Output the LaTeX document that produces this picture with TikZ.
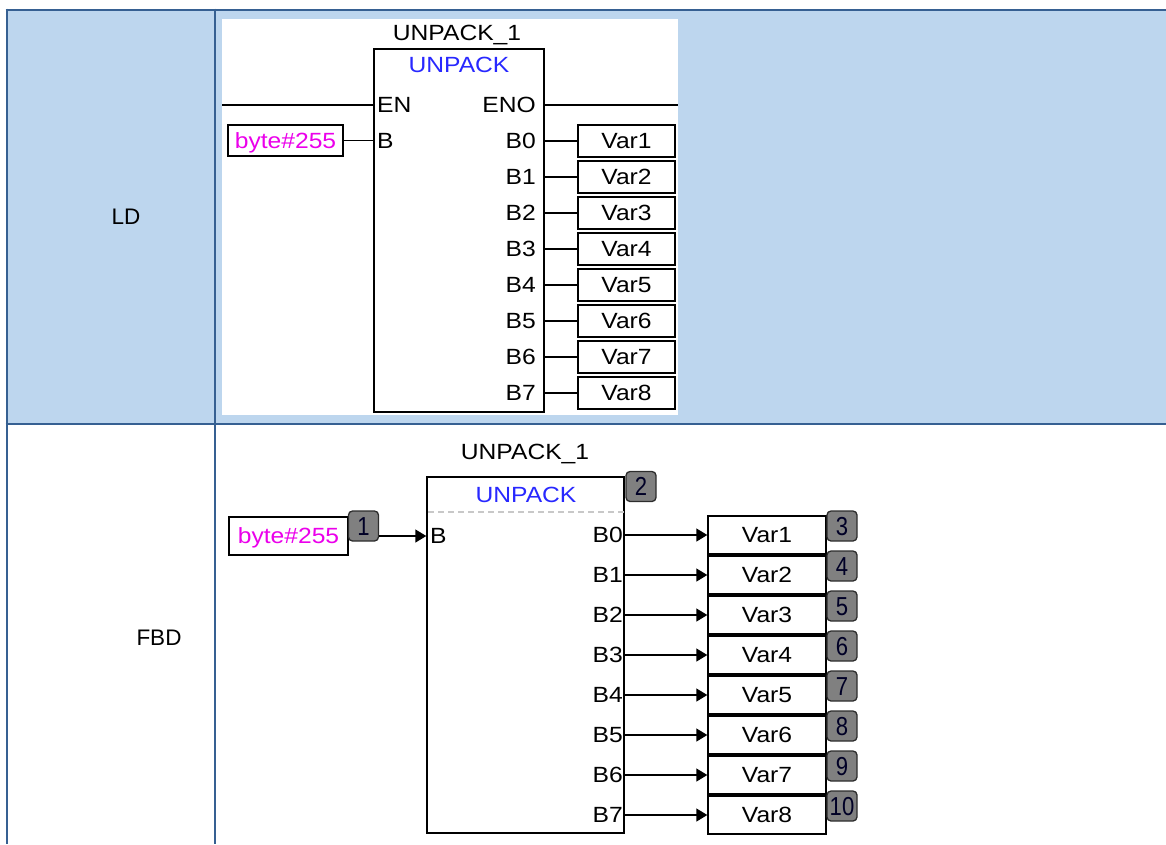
\documentclass[tikz,border=0pt]{standalone}
\usepackage{fontspec}
\setmainfont{Liberation Sans}
\newfontfamily\diagfont[FakeStretch=1.12]{Liberation Sans}
\newfontfamily\badgefont[FakeStretch=0.85]{Liberation Sans}
\usetikzlibrary{arrows.meta}
\definecolor{tblfill}{RGB}{189,214,238}
\definecolor{tblline}{RGB}{54,96,146}
\definecolor{fbblue}{RGB}{40,40,255}
\definecolor{bytemag}{RGB}{235,0,235}
\definecolor{badgegray}{RGB}{128,128,128}
\definecolor{badgeline}{RGB}{45,45,45}
\definecolor{dashgray}{RGB}{200,200,200}
\begin{document}
\begin{tikzpicture}[x=1pt,y=-1pt,
  celltxt/.style={inner sep=0pt, font=\fontsize{22.5}{26}\selectfont, text height=16pt, text depth=0pt},
  txt/.style={inner sep=0pt, font=\diagfont\fontsize{22}{25}\selectfont, text height=15.7pt, text depth=0pt},
  wire/.style={line width=1.4pt},
  arrowwire/.style={line width=1.4pt, -{Triangle[length=11pt,width=13pt]}},
  frame/.style={draw, line width=1.4pt, inner sep=0pt},
  varbox/.style={frame, fill=white, font=\diagfont\fontsize{22}{25}\selectfont, text height=15.7pt, text depth=0pt},
  bytebox/.style={varbox, text=bytemag},
  badge/.style={draw=badgeline, line width=1.3pt, fill=badgegray, rounded corners=4pt,
    minimum width=30pt, minimum height=30pt, inner sep=0pt,
    font=\badgefont\fontsize{26}{28}\selectfont, text=black!85!blue, text height=18pt, text depth=0pt},
  rule/.style={tblline, line width=2.6pt}
]
\useasboundingbox (0,0) rectangle (1166,844);
% table
\fill[tblfill] (7,10) rectangle (1166,424);
\fill[white] (222,19) rectangle (678,415);
\draw[rule] (5.7,10) -- (1166,10);
\draw[rule] (5.7,424) -- (1166,424);
\draw[rule] (7,8.7) -- (7,844);
\draw[rule] (215,8.7) -- (215,844);
\node[celltxt] (ldlabel) at (126,216) {LD};
\node[celltxt] (fbdlabel) at (159,637) {FBD};

% ---------- LD ----------
\node[txt] (ldtitle) at (457,33) {UNPACK\_1};
\node[frame, minimum width=170pt, minimum height=363pt] (ldbox) at (459,230.5) {};
\node[txt, text=fbblue] (ldtype) at (459,65) {UNPACK};
\node[txt, anchor=west] (ldEN) at (377,105) {EN};
\node[txt, anchor=east] (ldENO) at (536,105) {ENO};
\coordinate (ldrailL) at (222,105);
\coordinate (ldrailR) at (678,105);
\draw[wire] (ldrailL) -- (ldrailL -| ldbox.west);
\draw[wire] (ldrailR -| ldbox.east) -- (ldrailR);
\node[bytebox, minimum width=115pt, minimum height=31pt] (ldbyte) at (285.5,140.5) {byte\#255};
\node[txt, anchor=west] (ldB) at (377,141) {B};
\draw[wire] (ldbyte.east) -- (ldbyte.east -| ldbox.west);
\foreach \i in {0,...,7}{
  \pgfmathsetmacro{\yy}{141+36*\i}
  \pgfmathtruncatemacro{\n}{\i+1}
  \node[txt, anchor=east] (ldB\i) at (536,\yy) {B\i};
  \node[varbox, minimum width=97pt, minimum height=32pt] (ldvar\i) at (626.5,\yy) {Var\n};
  \draw[wire] (ldB\i.east -| ldbox.east) -- (ldvar\i.west);
}

% ---------- FBD ----------
\node[txt] (fbtitle) at (525,452) {UNPACK\_1};
\node[frame, fill=white, minimum width=197pt, minimum height=356pt] (fbbox) at (525.5,655) {};
\node[txt, text=fbblue] (fbtype) at (526,495) {UNPACK};
\coordinate (fbsep) at (428,512);
\draw[dashgray, line width=1.2pt, dash pattern=on 6pt off 4pt] (fbsep) -- (fbsep -| fbbox.east);
\node[badge] (fbbadge2) at (641,486.5) {2};
\node[bytebox, minimum width=119pt, minimum height=38pt] (fbbyte) at (288.5,536) {byte\#255};
\node[badge] (fbbadge1) at (363.5,526) {1};
\node[txt, anchor=west] (fbB) at (430,536) {B};
\draw[arrowwire] (fbbadge1.east |- fbB) -- (fbB -| fbbox.west);
\foreach \i in {0,...,7}{
  \pgfmathsetmacro{\yy}{535+40*\i}
  \pgfmathtruncatemacro{\n}{\i+1}
  \node[txt, anchor=east] (fbB\i) at (623,\yy) {B\i};
  \node[varbox, minimum width=118pt, minimum height=38pt] (fbvar\i) at (767,\yy) {Var\n};
  \draw[arrowwire] (fbB\i.east) -- (fbvar\i.west);
}
\foreach \i in {0,...,7}{
  \pgfmathsetmacro{\by}{526+40*\i}
  \pgfmathtruncatemacro{\m}{\i+3}
  \node[badge] (fbbadge\m) at (842,\by) {\m};
}
\end{tikzpicture}
\end{document}
